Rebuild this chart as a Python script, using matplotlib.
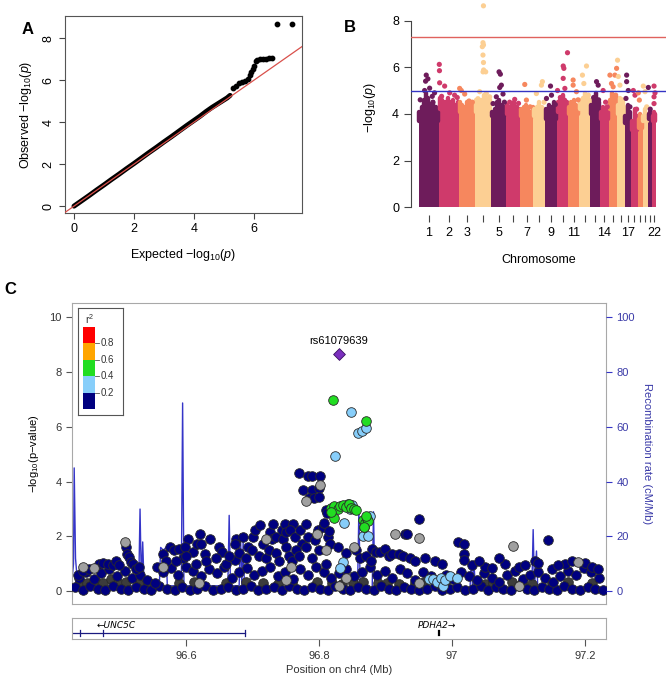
import numpy as np
import matplotlib.pyplot as plt
from matplotlib.patches import Rectangle

plt.rcParams['font.family'] = ['Liberation Sans', 'DejaVu Sans']
plt.rcParams['mathtext.fontset'] = 'custom'
plt.rcParams['mathtext.rm'] = 'Liberation Sans'
plt.rcParams['mathtext.it'] = 'Liberation Sans:italic'

# ---------------- A: QQ plot ----------------
qq_exp = [0, 0.25, 0.5, 0.75, 1.0, 1.25, 1.5, 1.75, 2.0, 2.25, 2.5, 2.75, 3.0, 3.25, 3.5, 3.75, 4.0,
          4.2, 4.4, 4.6, 4.8, 5.0, 5.1, 5.2]
qq_obs = [0, 0.25, 0.5, 0.76, 1.01, 1.27, 1.52, 1.78, 2.03, 2.29, 2.55, 2.8, 3.06, 3.31, 3.57, 3.83, 4.08,
          4.28, 4.5, 4.7, 4.88, 5.06, 5.15, 5.27]
qq_tail_exp = [5.3, 5.4, 5.5, 5.6, 5.7, 5.8, 5.85, 5.9, 5.95, 6.0, 6.05, 6.1, 6.2, 6.3, 6.4, 6.5, 6.6, 6.77, 7.27]
qq_tail_obs = [5.63, 5.72, 5.86, 5.9, 5.98, 6.05, 6.22, 6.4, 6.55, 6.66, 6.9, 6.97, 6.99, 7.0, 7.01, 7.03, 7.06, 8.65, 8.65]

# ---------------- B: Manhattan ----------------
chrom_len = [249.3, 243.2, 198.0, 191.2, 180.9, 171.1, 159.1, 146.4, 141.2, 135.5, 135.0,
             133.9, 115.2, 107.3, 102.5, 90.4, 81.2, 78.1, 59.1, 63.0, 48.1, 51.3]
body_height = [3.8, 4.3, 4.2, 4.2, 4.0, 4.1, 4.0, 4.0, 3.9, 4.2, 4.1,
               4.3, 4.1, 3.9, 4.3, 4.1, 3.7, 3.4, 3.5, 3.8, 3.9, 3.8]
chrom_labels = {1: '1', 2: '2', 3: '3', 5: '5', 7: '7', 9: '9', 11: '11', 14: '14', 17: '17', 22: '22'}
man_colors = ['#6E1C5B', '#CF3A6B', '#F6875E', '#FCCF93']

# ragged top of the dense cloud, per chromosome (Mb, -log10 p)
upper_pos = [[10, 40, 70, 95, 120, 150, 180, 210, 235],
             [10, 40, 75, 110, 140, 170, 200, 230],
             [10, 40, 70, 100, 130, 160, 185],
             [10, 40, 70, 100, 130, 160, 180],
             [10, 40, 70, 100, 130, 160],
             [10, 40, 70, 100, 130, 160],
             [10, 40, 70, 100, 130, 150],
             [10, 40, 70, 100, 130],
             [10, 40, 70, 100, 130],
             [10, 40, 70, 100, 125],
             [10, 40, 70, 100, 125],
             [10, 40, 70, 100, 125],
             [10, 40, 70, 100],
             [10, 40, 70, 100],
             [10, 40, 70, 95],
             [10, 40, 70, 85],
             [10, 40, 70],
             [10, 40, 70],
             [10, 30, 50],
             [10, 30, 55],
             [10, 30, 42],
             [10, 30, 45]]
upper_val = [[4.1, 4.3, 4.6, 4.9, 4.7, 4.4, 4.5, 4.3, 4.1],
             [4.7, 4.6, 4.5, 4.7, 4.5, 4.6, 4.4, 4.5],
             [4.5, 4.4, 4.3, 4.5, 4.4, 4.3, 4.4],
             [4.6, 4.5, 4.6, 4.8, 4.7, 4.5, 4.6],
             [4.1, 4.2, 4.5, 4.6, 4.4, 4.3],
             [4.4, 4.3, 4.4, 4.5, 4.3, 4.2],
             [4.2, 4.3, 4.4, 4.2, 4.1, 4.3],
             [4.2, 4.3, 4.5, 4.3, 4.2],
             [4.2, 4.4, 4.3, 4.5, 4.2],
             [4.5, 4.6, 4.8, 4.6, 4.5],
             [4.3, 4.5, 4.6, 4.4, 4.3],
             [4.6, 4.7, 4.9, 4.8, 4.6],
             [4.4, 4.7, 4.9, 4.5],
             [4.1, 4.3, 4.2, 4.1],
             [4.6, 4.9, 4.8, 4.7],
             [4.4, 4.7, 4.5, 4.3],
             [3.9, 4.4, 4.1],
             [3.7, 4.2, 3.9],
             [3.8, 4.0, 3.7],
             [3.9, 4.2, 4.0],
             [4.0, 4.1, 3.9],
             [3.9, 4.1, 4.0]]

peak_chr = [1, 1, 1, 1, 1, 1, 1, 1, 1, 1, 1, 1,
            2, 2, 2, 2, 2, 2, 2, 2,
            3, 3, 3, 3, 3,
            4, 4, 4, 4, 4, 4, 4, 4, 4, 4, 4, 4, 4,
            5, 5, 5, 5, 5, 5, 5, 5,
            6, 6, 6, 7, 7, 7, 8, 8, 8, 8,
            9, 9, 9, 9, 10, 10, 10, 10, 10, 10, 10,
            11, 11, 11, 11, 12, 12, 12, 12, 13, 13, 13, 13,
            14, 14, 14, 15, 15, 15, 15, 15, 15, 16, 16, 16, 16,
            17, 17, 17, 17, 17, 18, 18, 18, 19, 19, 20, 20, 20, 21, 21, 22, 22, 22, 22]
peak_pos = [93, 113, 85, 134, 73, 166, 20, 174, 194, 100, 150, 60,
            2, 4, 6, 67, 128, 188, 30, 220,
            6, 26, 67, 120, 160,
            96.8, 91, 97, 83, 91, 97, 99, 92, 124, 51, 132, 172, 30,
            95, 111, 123, 103, 62, 22, 143, 160,
            104, 43, 150, 55, 75, 120, 37, 98, 110, 130,
            62, 13, 74, 120, 6, 75, 83, 75, 95, 127, 40,
            60, 60, 100, 120, 38, 87, 55, 110, 75, 95, 40, 100,
            40, 70, 90, 15, 75, 96, 34, 54, 85, 5, 14, 34, 60,
            25, 25, 45, 17, 65, 25, 45, 65, 8, 20, 9, 30, 50, 7, 30, 28, 28, 28, 40]
peak_val = [5.66, 5.5, 5.4, 5.1, 5.0, 4.75, 4.6, 4.5, 4.9, 4.45, 4.4, 4.3,
            6.12, 5.85, 5.33, 5.19, 4.9, 4.8, 4.75, 4.7,
            5.09, 5.0, 4.85, 4.55, 4.5,
            8.63, 7.05, 6.95, 6.88, 6.52, 6.2, 5.88, 5.8, 5.8, 4.95, 4.87, 4.73, 4.65,
            5.8, 5.7, 5.23, 5.13, 4.73, 4.44, 4.85, 4.5,
            4.62, 4.5, 4.45, 5.26, 4.59, 4.3, 4.87, 5.23, 5.38, 4.5,
            5.19, 4.66, 4.8, 4.4, 5.0, 6.05, 5.95, 5.52, 5.09, 6.62, 4.7,
            5.45, 5.23, 4.95, 4.6, 5.66, 6.05, 5.3, 4.8, 5.38, 5.23, 4.7, 4.6,
            5.0, 4.5, 4.3, 5.66, 5.66, 5.95, 5.3, 5.16, 4.8, 6.3, 5.6, 5.23, 4.6,
            5.66, 5.38, 5.0, 4.66, 4.3, 5.0, 4.8, 4.2, 4.9, 4.59, 5.19, 4.95, 4.3, 5.13, 4.2, 5.19, 4.73, 4.44, 4.9]

# ---------------- C: regional plot ----------------
lead_x, lead_y, lead_name = 96.830, 8.65, 'rs61079639'

navy_x = [96.433, 96.445, 96.456, 96.468, 96.479, 96.490, 96.502, 96.513, 96.525, 96.537, 96.548, 96.560,
          96.571, 96.583, 96.594, 96.606, 96.617, 96.629, 96.640, 96.652, 96.663, 96.675, 96.686, 96.698,
          96.709, 96.721, 96.732, 96.744, 96.755, 96.767, 96.778, 96.790, 96.801, 96.813, 96.824, 96.836,
          96.847, 96.859, 96.870, 96.882, 96.893, 96.905, 96.916, 96.928, 96.939, 96.951, 96.962, 96.974,
          96.985, 96.997, 97.008, 97.020, 97.031, 97.043, 97.054, 97.066, 97.077, 97.089, 97.100, 97.112,
          97.123, 97.135, 97.146, 97.158, 97.169, 97.181, 97.192, 97.204, 97.215, 97.227,
          # second row
          96.439, 96.450, 96.462, 96.473, 96.485, 96.496, 96.508, 96.519, 96.531, 96.542, 96.554, 96.565,
          96.577, 96.588, 96.600, 96.611, 96.623, 96.634, 96.646, 96.657, 96.669, 96.680, 96.692, 96.703,
          96.715, 96.726, 96.738, 96.749, 96.761, 96.772, 96.784, 96.795, 96.807, 96.818, 96.830, 96.841,
          96.853, 96.864, 96.876, 96.887, 96.899, 96.910, 96.922, 96.933, 96.945, 96.956, 96.968, 96.979,
          96.991, 97.002, 97.014, 97.025, 97.037, 97.048, 97.060, 97.071, 97.083, 97.094, 97.106, 97.117,
          97.129, 97.140, 97.152, 97.163, 97.175, 97.186, 97.198, 97.209, 97.221,
          # left bump
          96.437, 96.445, 96.455, 96.470, 96.475, 96.483, 96.490, 96.495, 96.500, 96.510, 96.512, 96.514,
          96.518, 96.520, 96.525, 96.530,
          # hill 96.55 - 96.82
          96.556, 96.566, 96.570, 96.576, 96.582, 96.590, 96.595, 96.603, 96.598, 96.610, 96.617, 96.621,
          96.623, 96.628, 96.636, 96.649, 96.654, 96.674, 96.676, 96.674, 96.686, 96.694, 96.701, 96.704,
          96.711, 96.716, 96.726, 96.729, 96.731, 96.736, 96.744, 96.749, 96.746, 96.751, 96.761, 96.756,
          96.764, 96.771, 96.774, 96.781, 96.784, 96.794, 96.799, 96.806, 96.814, 96.817,
          96.585, 96.600, 96.615, 96.630, 96.645, 96.660, 96.665, 96.680, 96.690, 96.700, 96.710, 96.720,
          96.725, 96.735, 96.740, 96.750, 96.755, 96.760, 96.765, 96.770, 96.780, 96.790, 96.800, 96.810,
          # cluster near the lead
          96.770, 96.784, 96.790, 96.802, 96.776, 96.790, 96.800, 96.785, 96.793, 96.800, 96.810, 96.812,
          96.808, 96.815, 96.829, 96.840, 96.855, 96.862, 96.870, 96.878, 96.880, 96.885,
          # right side
          96.892, 96.899, 96.905, 96.910, 96.921, 96.926, 96.937, 96.951, 96.929, 96.933, 96.945, 96.960,
          96.975, 96.985, 97.009, 97.018, 97.018, 97.018, 97.030, 97.050, 97.060, 97.080, 97.100, 97.110,
          97.125, 97.130, 97.144, 97.150, 97.170, 97.180, 97.200, 97.210, 97.220, 97.040, 97.070, 97.160]
navy_y = [0.15, 0.05, 0.2, 0.1, 0.05, 0.2, 0.1, 0.05, 0.15, 0.1, 0.05, 0.2,
          0.1, 0.05, 0.15, 0.05, 0.1, 0.2, 0.05, 0.1, 0.15, 0.05, 0.1, 0.2,
          0.05, 0.1, 0.15, 0.05, 0.2, 0.1, 0.05, 0.15, 0.1, 0.05, 0.2, 0.1,
          0.05, 0.15, 0.1, 0.05, 0.2, 0.1, 0.05, 0.15, 0.1, 0.05, 0.1, 0.2,
          0.05, 0.1, 0.15, 0.05, 0.1, 0.2, 0.05, 0.15, 0.1, 0.05, 0.2, 0.1,
          0.05, 0.15, 0.1, 0.05, 0.2, 0.1, 0.05, 0.15, 0.1, 0.05,
          0.5, 0.7, 0.45, 0.65, 0.8, 0.55, 0.75, 0.5, 0.6, 0.4, 0.3, 0.7,
          0.85, 0.6, 0.9, 0.75, 0.55, 0.8, 0.65, 0.9, 0.5, 0.7, 0.85, 0.6,
          0.75, 0.9, 0.55, 0.7, 0.45, 0.8, 0.6, 0.9, 0.7, 0.5, 0.65, 0.8,
          0.55, 0.7, 0.9, 0.6, 0.75, 0.5, 0.8, 0.65, 0.4, 0.7, 0.55, 0.3,
          0.6, 0.45, 0.7, 0.55, 0.4, 0.65, 0.5, 0.35, 0.6, 0.75, 0.45, 0.6,
          0.7, 0.5, 0.35, 0.55, 0.75, 0.6, 0.85, 0.7, 0.5,
          0.6, 0.75, 0.8, 1.0, 1.05, 1.0, 0.95, 1.1, 0.95, 1.62, 1.37, 1.25,
          1.07, 1.0, 0.8, 0.9,
          0.9, 1.37, 1.1, 1.62, 1.5, 1.56, 1.2, 1.92, 1.62, 1.45, 1.74, 2.1,
          1.74, 1.37, 1.92, 1.62, 1.44, 1.13, 1.92, 1.74, 1.98, 1.62, 1.98, 2.23,
          2.41, 1.74, 2.17, 1.92, 2.47, 1.98, 2.23, 2.47, 1.92, 2.17, 2.47, 2.23,
          1.98, 2.23, 1.74, 2.47, 1.98, 1.86, 2.23, 2.35, 1.98, 1.74,
          1.1, 1.3, 1.0, 1.1, 1.2, 1.0, 1.3, 1.4, 1.2, 1.5, 1.3, 1.2,
          1.5, 1.4, 1.1, 1.6, 1.3, 1.1, 1.5, 1.3, 1.6, 1.2, 1.5, 1.0,
          4.33, 4.21, 4.21, 4.21, 3.69, 3.7, 3.75, 3.4, 3.4, 3.43, 2.95, 2.85,
          2.5, 2.2, 1.62, 1.4, 1.5, 1.2, 1.3, 1.1, 1.55, 1.45,
          1.45, 1.56, 1.3, 1.35, 1.35, 1.3, 1.2, 2.62, 2.1, 2.1, 1.1, 1.2,
          1.1, 1.0, 1.8, 1.74, 1.35, 1.15, 0.95, 0.9, 0.85, 1.0, 0.9, 0.95,
          1.1, 1.05, 1.86, 0.8, 1.0, 1.1, 1.05, 0.9, 0.8, 1.1, 1.2, 0.95]

dark_x = [96.440, 96.452, 96.463, 96.476, 96.487, 96.498, 96.510, 96.530, 96.545, 96.590, 96.612, 96.660,
          96.690, 96.716, 96.738, 96.760, 96.797, 96.820, 96.834, 96.851, 96.866, 96.888, 96.903, 96.921,
          96.945, 96.958, 96.989, 97.050, 97.062, 97.090, 97.105, 97.120, 97.150, 97.175, 97.210]
dark_y = [0.35, 0.3, 0.4, 0.3, 0.45, 0.3, 0.35, 0.25, 0.3, 0.3, 0.35, 0.3,
          0.35, 0.3, 0.25, 0.3, 0.35, 0.3, 0.25, 0.3, 0.35, 0.3, 0.3, 0.25,
          0.3, 0.35, 0.3, 0.25, 0.3, 0.35, 0.3, 0.25, 0.3, 0.35, 0.3]

gray_x = [96.508, 96.445, 96.462, 96.565, 96.620, 96.750, 96.721, 96.781, 96.802, 96.810, 96.852,
          96.914, 96.951, 97.092, 97.189, 96.830, 96.950, 97.100, 96.840, 96.797, 96.758]
gray_y = [1.8, 0.9, 0.85, 0.9, 0.3, 0.4, 1.92, 3.3, 3.87, 1.5, 1.62,
          2.1, 1.96, 1.64, 1.07, 0.2, 0.3, 0.2, 0.5, 2.1, 0.9]

lblue_x = [96.848, 96.858, 96.864, 96.871, 96.824, 96.843, 96.850, 96.838, 96.846, 96.866, 96.874,
           96.868, 96.876, 96.836, 96.832, 96.966, 96.972, 96.978, 96.983, 96.986, 96.990, 96.997, 97.008]
lblue_y = [6.53, 5.78, 5.84, 5.94, 4.93, 3.2, 3.15, 2.5, 3.0, 2.0, 2.0,
           2.35, 2.75, 1.07, 0.85, 0.45, 0.45, 0.35, 0.5, 0.2, 0.4, 0.55, 0.5]

green_x = [96.821, 96.871, 96.818, 96.823, 96.828, 96.832, 96.836, 96.840, 96.845, 96.848, 96.852,
           96.856, 96.822, 96.818, 96.866, 96.869, 96.872, 96.874, 96.868, 96.871]
green_y = [6.97, 6.2, 3.05, 3.1, 3.0, 3.12, 3.15, 3.08, 3.2, 3.05, 3.0,
           2.95, 2.68, 2.9, 2.6, 2.5, 2.65, 2.55, 2.35, 2.75]

rec_x = [96.429, 96.431, 96.432, 96.434, 96.436, 96.445, 96.460, 96.480, 96.500, 96.529, 96.531, 96.533,
         96.535, 96.537, 96.540, 96.560, 96.562, 96.566, 96.570, 96.572, 96.593, 96.595, 96.597, 96.620,
         96.640, 96.663, 96.665, 96.667, 96.680, 96.682, 96.684, 96.686, 96.688, 96.720, 96.760, 96.800,
         96.858, 96.860, 96.862, 96.880, 96.882, 96.884, 96.920, 96.960, 97.027, 97.029, 97.031, 97.033,
         97.035, 97.080, 97.120, 97.122, 97.124, 97.127, 97.129, 97.131, 97.160, 97.200, 97.232]
rec_rate = [5, 10, 45, 12, 6, 4, 3, 2, 2, 2, 30, 3,
            18, 3, 2, 2, 16, 15, 16, 2, 2, 68.7, 2, 2,
            2, 2, 27.7, 2, 2, 21, 2, 18, 2, 1, 1, 1,
            1, 30, 1, 1, 29, 1, 1, 1, 1, 11, 1, 11,
            1, 1, 1, 22.5, 1, 14.7, 1, 1, 1, 1, 1]

r2_colors = ['#000080', '#87CEFA', '#22DD22', '#FFA500', '#FF0000']
r2_ticks = ['0.2', '0.4', '0.6', '0.8']

# ================= drawing =================
fig = plt.figure(figsize=(6.66, 6.85), dpi=100)

# ---- A ----
axA = fig.add_axes([0.0976, 0.689, 0.356, 0.2876])
axA.plot(qq_exp, qq_obs, color='black', lw=3.6, solid_capstyle='round', zorder=2)
axA.scatter(qq_tail_exp, qq_tail_obs, s=10, color='black', zorder=3)
axA.axline((0, 0), slope=1, color='#D9504B', lw=0.9, zorder=4)
axA.set_xlim(-0.3, 7.6)
axA.set_ylim(-0.33, 9.05)
axA.set_xticks([0, 2, 4, 6])
axA.set_yticks([0, 2, 4, 6, 8])
axA.tick_params(labelsize=9, length=4, color='#444444')
for lab in axA.get_yticklabels():
    lab.set_rotation(90)
    lab.set_va('center')
for sp in axA.spines.values():
    sp.set_color('#555555')
axA.set_xlabel(r'Expected $-$log$_{10}$($p$)', fontsize=9, labelpad=8)
axA.set_ylabel(r'Observed $-$log$_{10}$($p$)', fontsize=9, labelpad=6)
fig.text(28 / 666, 1 - 30 / 685, 'A', fontsize=12, fontweight='bold', ha='center', va='center')

# ---- B ----
axB = fig.add_axes([0.617, 0.686, 0.383, 0.314])
starts = np.concatenate([[0], np.cumsum(chrom_len)[:-1]])
centers = starts + np.array(chrom_len) / 2
bar_cols = [man_colors[i % 4] for i in range(len(chrom_len))]
axB.bar(centers, body_height, width=chrom_len, color=bar_cols, zorder=2)
for i in range(len(chrom_len)):
    ux = starts[i] + np.array(upper_pos[i])
    # each ragged top is a streak of dots rising out of the body
    axB.vlines(ux, body_height[i] - 0.1, upper_val[i], color=bar_cols[i], lw=3.2,
               capstyle='round', zorder=2)
pk_x = [starts[c - 1] + p for c, p in zip(peak_chr, peak_pos)]
pk_c = [man_colors[(c - 1) % 4] for c in peak_chr]
axB.scatter(pk_x, peak_val, s=14, c=pk_c, linewidths=0, zorder=3)
axB.axhline(7.3, color='#E0625E', lw=1.0, zorder=4)
axB.axhline(5.0, color='#3434C4', lw=1.0, zorder=4)
axB.set_xlim(-93, 3003)
axB.set_ylim(-0.34, 8.88)
axB.set_xticks(centers)
axB.set_xticklabels([chrom_labels.get(i + 1, '') for i in range(len(chrom_len))])
axB.set_yticks([0, 2, 4, 6, 8])
axB.tick_params(labelsize=9, length=5, color='#444444')
for k in ['top', 'right', 'bottom']:
    axB.spines[k].set_visible(False)
axB.spines['left'].set_bounds(0, 8)
axB.spines['left'].set_color('#444444')
axB.set_xlabel('Chromosome', fontsize=9, labelpad=11)
axB.set_ylabel(r'$-$log$_{10}$($p$)', fontsize=9, labelpad=10)
fig.text(350 / 666, 1 - 28 / 685, 'B', fontsize=12, fontweight='bold', ha='center', va='center')

# ---- C ----
frame_col = '#A8A8A8'
rec_col = '#3535C8'
axC = fig.add_axes([0.108, 0.118, 0.802, 0.439])
axC.plot(rec_x, np.array(rec_rate) / 10.0, color=rec_col, lw=1.0, zorder=1)
kw = dict(s=48, edgecolors='#2a2a2a', linewidths=0.6, zorder=3)
axC.scatter(dark_x, dark_y, c='#3c3c3c', **kw)
axC.scatter(navy_x, navy_y, c=r2_colors[0], **kw)
axC.scatter(gray_x, gray_y, c='#A0A0A0', **kw)
axC.scatter(lblue_x, lblue_y, c=r2_colors[1], **kw)
axC.scatter(green_x, green_y, c=r2_colors[2], **kw)
axC.scatter([lead_x], [lead_y], marker='D', s=36, c='#7B2FBE', edgecolors='#3a1060', linewidths=0.6, zorder=5)
axC.text(lead_x, lead_y + 0.3, lead_name, fontsize=8, ha='center', va='bottom')
axC.set_xlim(96.4286, 97.2316)
axC.set_ylim(-0.47, 10.5)
axC.set_xticks([])
axC.set_yticks([0, 2, 4, 6, 8, 10])
axC.tick_params(labelsize=8, length=4, color='#555555', labelcolor='#333333')
for sp in axC.spines.values():
    sp.set_color(frame_col)
axC.set_ylabel(r'$-$log$_{10}$(p$-$value)', fontsize=8, labelpad=6)

axR = axC.twinx()
axR.set_ylim(-4.7, 105)
axR.set_yticks([0, 20, 40, 60, 80, 100])
axR.tick_params(labelsize=8, length=4, color=rec_col, labelcolor='#3A3AA8')
for sp in axR.spines.values():
    sp.set_visible(False)
axR.set_ylabel('Recombination rate (cM/Mb)', fontsize=8, color='#3A3AA8', rotation=270, labelpad=12)

fig.text(10 / 666, 1 - 290 / 685, 'C', fontsize=12, fontweight='bold', ha='center', va='center')

# r2 legend
axL = fig.add_axes([78 / 666, 1 - 415 / 685, 45 / 666, 107 / 685])
axL.set_xlim(0, 1)
axL.set_ylim(0, 1)
axL.set_xticks([])
axL.set_yticks([])
for sp in axL.spines.values():
    sp.set_color('#555555')
    sp.set_linewidth(0.8)
seg_h = (0.822 - 0.056) / 5
for i, col in enumerate(r2_colors):
    axL.add_patch(Rectangle((0.11, 0.056 + i * seg_h), 0.27, seg_h, color=col, lw=0))
for i, t in enumerate(r2_ticks):
    yy = 0.056 + (i + 1) * seg_h
    axL.plot([0.38, 0.46], [yy, yy], color='#555555', lw=0.6)
    axL.text(0.5, yy, t, fontsize=7, va='center', ha='left', color='#333333')
axL.text(0.25, 0.9, r'r$^2$', fontsize=7.5, ha='center', va='center', color='#333333')

# gene panel
axG = fig.add_axes([0.108, 0.067, 0.802, 0.0307])
axG.set_xlim(96.4286, 97.2316)
axG.set_ylim(0, 1)
axG.set_yticks([])
for sp in axG.spines.values():
    sp.set_color(frame_col)
axG.plot([96.4286, 96.689], [0.29, 0.29], color='#1a1a80', lw=0.9)
for gx in [96.441, 96.475, 96.689]:
    axG.plot([gx, gx], [0.16, 0.42], color='#1a1a80', lw=0.9)
axG.plot([96.980, 96.980], [0.18, 0.40], color='black', lw=1.6)
gene_font = ['DejaVu Sans']
axG.text(96.466, 0.64, '\u2190UNC5C', fontsize=6.5, style='italic', ha='left', va='center',
         family=gene_font)
axG.text(96.948, 0.64, 'PDHA2\u2192', fontsize=6.5, style='italic', ha='left', va='center',
         family=gene_font)
axG.set_xticks([96.6, 96.8, 97.0, 97.2])
axG.set_xticklabels(['96.6', '96.8', '97', '97.2'])
axG.tick_params(labelsize=8, length=5, color='#555555', labelcolor='#333333')
axG.set_xlabel('Position on chr4 (Mb)', fontsize=8, labelpad=3, color='#333333')

fig.savefig('out.png', dpi=100)
